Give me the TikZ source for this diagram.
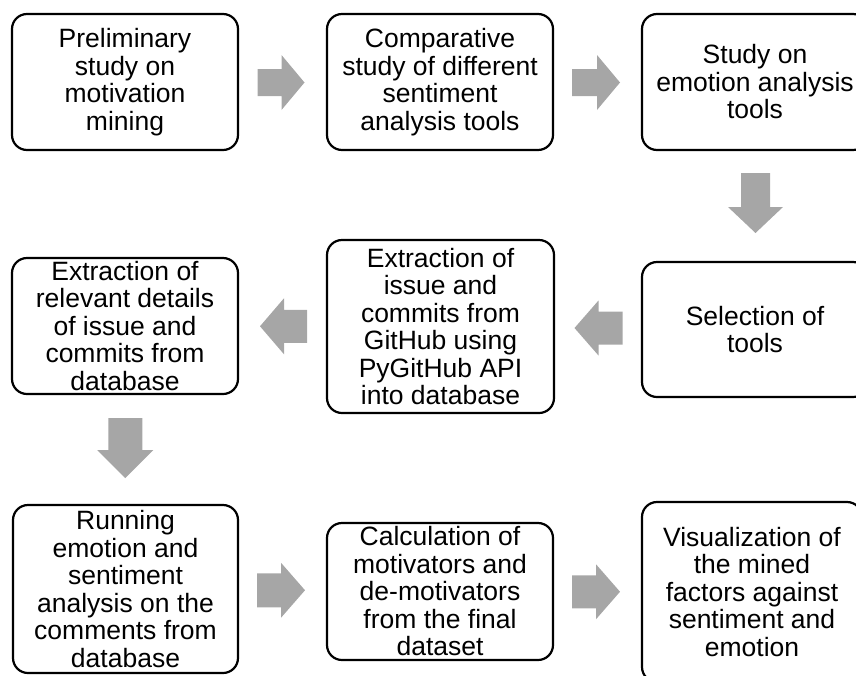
\documentclass[tikz,border=0pt]{standalone}
\usepackage{fontspec}
\setmainfont{Liberation Sans}
\usetikzlibrary{calc}
\definecolor{arrowgray}{HTML}{A6A6A6}
\begin{document}
\begin{tikzpicture}[x=1pt,y=1pt,
  stepbox/.style={draw=black, line width=2.2pt, rounded corners=15pt,
    minimum width=226pt, minimum height=136pt, inner sep=0pt, align=center,
    font=\fontsize{26.5}{27.5}\selectfont},
  pics/flowarrow/.style n args={4}{code={
    % #1 total length, #2 head length, #3 shaft width, #4 head width
    \fill[arrowgray] (-#1/2,-#3/2) -- (#1/2-#2,-#3/2) -- (#1/2-#2,-#4/2)
      -- (#1/2,0) -- (#1/2-#2,#4/2) -- (#1/2-#2,#3/2) -- (-#1/2,#3/2) -- cycle;
  }}]
\useasboundingbox (0,0) rectangle (856,-675);
\begin{scope}
\clip (0,0) rectangle (856,-675);

% first row
\node[stepbox] (b1) at (125,-82) {Preliminary\\study on\\motivation\\mining};
\node[stepbox] (b2) at (440,-82) {Comparative\\study of different\\sentiment\\analysis tools};
\node[stepbox] (b3) at (755,-82) {Study on\\emotion analysis\\tools};

% second row
\node[stepbox, minimum height=135pt] (b4) at (755,-329.5) {Selection of\\tools};
\node[stepbox, minimum width=227pt, minimum height=173pt] (b5) at (440.5,-326.5)
  {Extraction of\\issue and\\commits from\\GitHub using\\PyGitHub API\\into database};
\node[stepbox] (b6) at (125,-326) {Extraction of\\relevant details\\of issue and\\commits from\\database};

% third row
\node[stepbox, minimum width=225pt, minimum height=168pt] (b7) at (125.5,-589)
  {Running\\emotion and\\sentiment\\analysis on the\\comments from\\database};
\node[stepbox, minimum height=137pt] (b8) at (440,-591.5)
  {Calculation of\\motivators and\\de-motivators\\from the final\\dataset};
\node[stepbox, minimum width=220pt, minimum height=180pt] (b9) at (752,-592)
  {Visualization of\\the mined\\factors against\\sentiment and\\emotion};

% block arrows between the steps
\pic at ($(b1.east)!0.5!(b2.west)+(-1.5,-0.5)$) {flowarrow={47}{23}{27}{55}};
\pic at ($(b2.east)!0.5!(b3.west)+(-1.5,-0.5)$) {flowarrow={48}{23}{27}{55}};
\pic[rotate=-90] at ($(b3.south)!0.5!(b4.north)+(0.5,3)$) {flowarrow={60}{26}{29}{55}};
\pic[rotate=180] at ($(b4.west)!0.5!(b5.east)+(0.5,0)$) {flowarrow={48}{24}{33}{55}};
\pic[rotate=180] at ($(b5.west)!0.5!(b6.east)+(1,0)$) {flowarrow={47}{24}{33}{56}};
\pic[rotate=-90] at ($(b6.south)!0.5!(b7.north)+(0,1.5)$) {flowarrow={60}{28}{34}{56}};
\pic at ($(b7.east)!0.5!(b8.west)+(-1.5,0)$) {flowarrow={48}{24}{34}{55}};
\pic at ($(b8.east)!0.5!(b9.west)+(-1.5,0)$) {flowarrow={48}{24}{33}{55}};
\end{scope}
\end{tikzpicture}
\end{document}
